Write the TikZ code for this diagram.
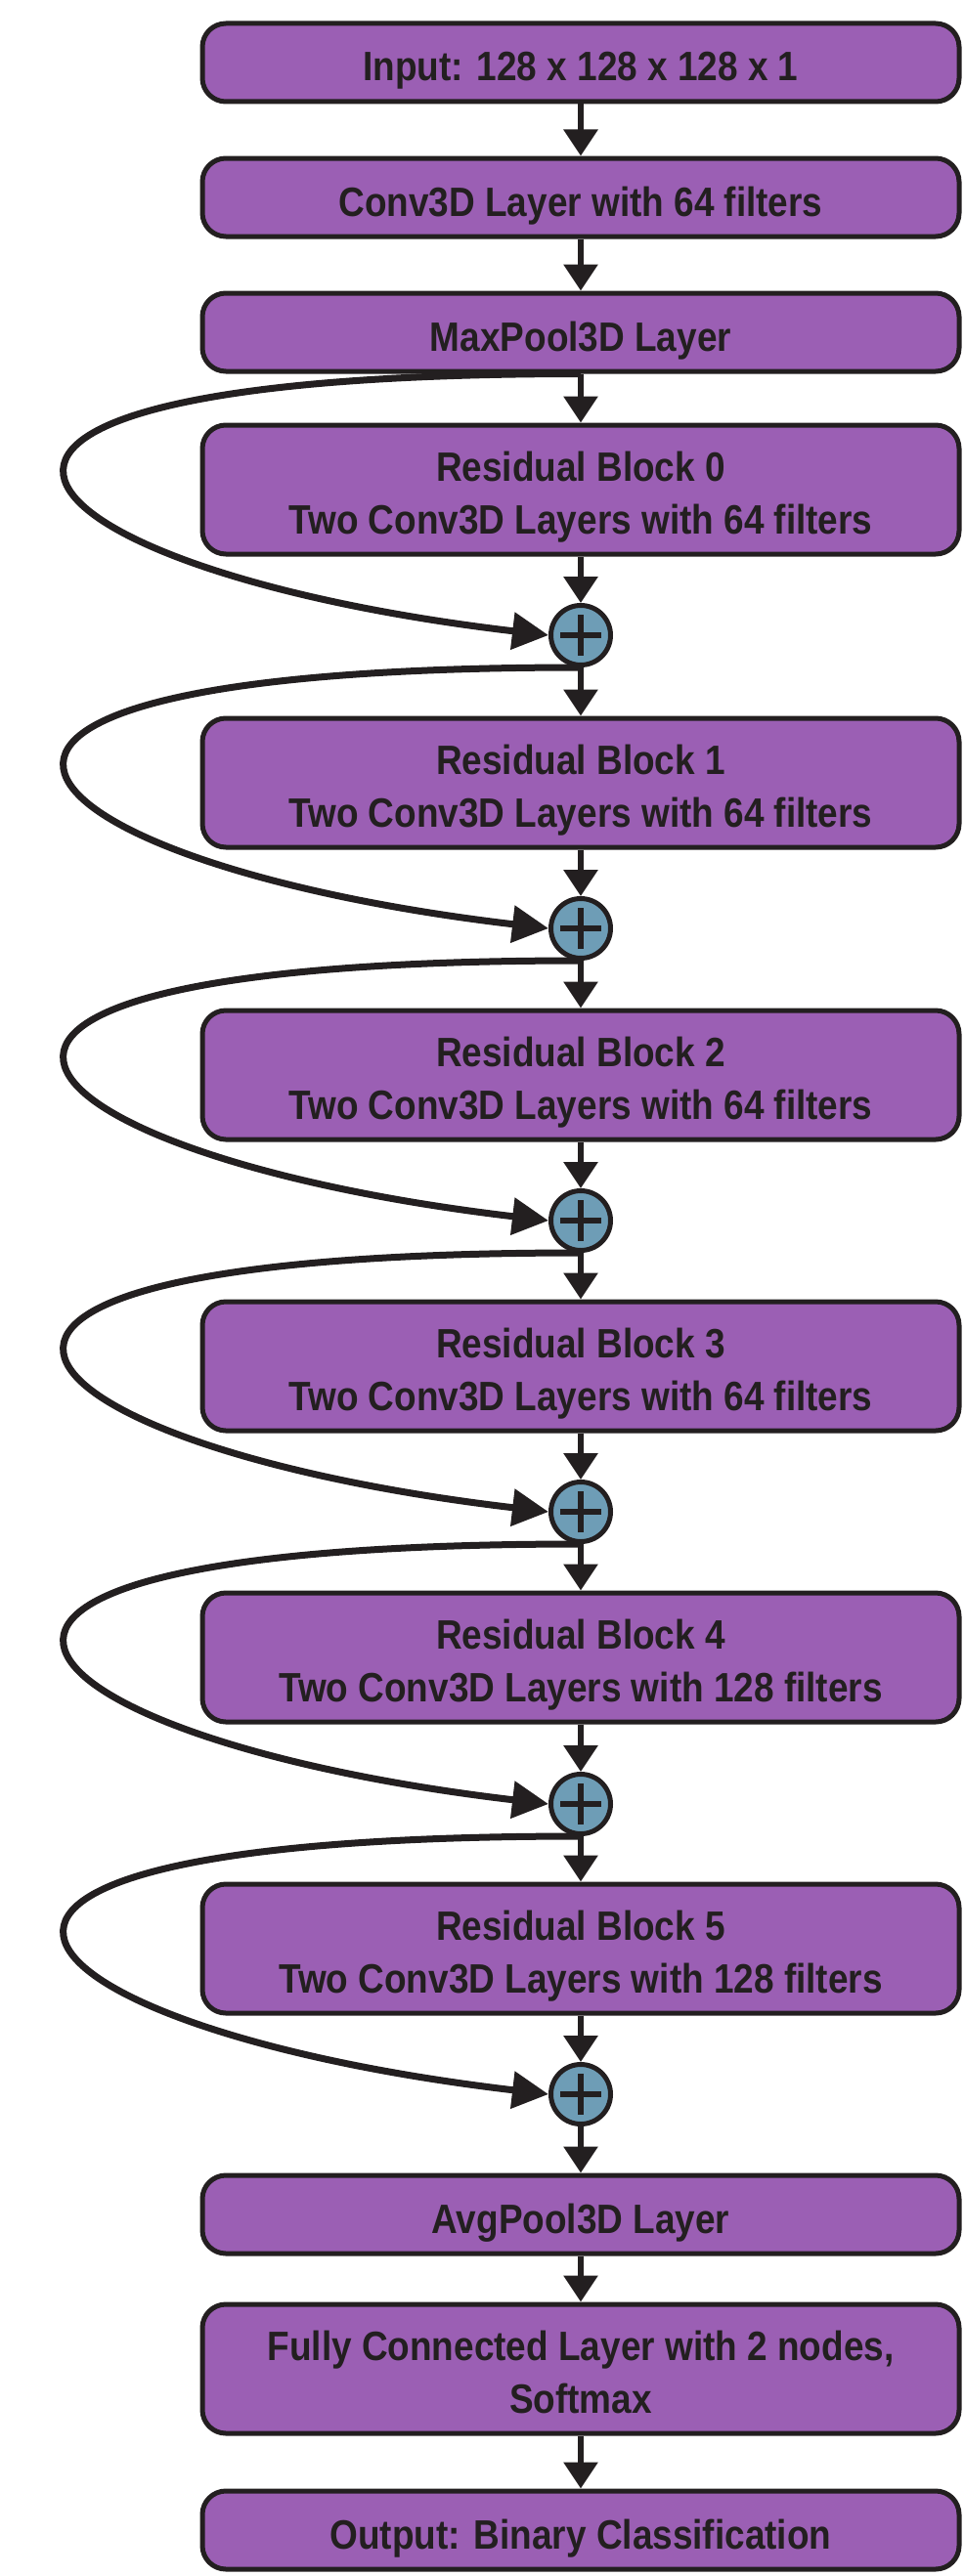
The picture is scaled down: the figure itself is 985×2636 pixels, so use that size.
\documentclass[tikz,border=0pt]{standalone}
\usepackage{fontspec}
\setmainfont{Liberation Sans}[FakeStretch=0.88]
\usetikzlibrary{arrows.meta}
\definecolor{boxpurple}{RGB}{155,95,180}
\definecolor{addblue}{RGB}{110,157,182}
\definecolor{inkdark}{RGB}{35,31,32}

\begin{document}
\begin{tikzpicture}[x=1pt,y=1pt,
  layer/.style={draw=inkdark,line width=5pt,rounded corners=24pt,fill=boxpurple,text=inkdark,minimum width=774pt,minimum height=80pt,align=center,inner sep=0pt,text height=38pt,text depth=0pt,font=\fontsize{42}{54}\selectfont\bfseries},
  block/.style={layer,minimum height=132pt,text height=90pt},
  addop/.style={circle,draw=inkdark,line width=5pt,fill=addblue,minimum size=61pt,inner sep=0pt,path picture={\draw[inkdark,line width=6pt] ([xshift=-21pt]path picture bounding box.center) -- ([xshift=21pt]path picture bounding box.center) ([yshift=-21pt]path picture bounding box.center) -- ([yshift=21pt]path picture bounding box.center);}},
  flow/.style={draw=inkdark,line width=6pt,-{Triangle[length=27pt,width=34pt]}},
  skip/.style={draw=inkdark,line width=7pt,-{Triangle[length=37pt,width=37pt]}}]
\useasboundingbox (0,0) rectangle (985,-2636);
\node[layer] (in_l) at (594,-64) {Input: 128 x 128 x 128 x 1};
\node[layer] (conv_l) at (594,-202) {Conv3D Layer with 64 filters};
\node[layer] (maxp) at (594,-340) {MaxPool3D Layer};
\node[block] (res0) at (594,-501) {Residual Block 0\\Two Conv3D Layers with 64 filters};
\node[addop] (add0) at (594,-650) {};
\node[block] (res1) at (594,-801) {Residual Block 1\\Two Conv3D Layers with 64 filters};
\node[addop] (add1) at (594,-950) {};
\node[block] (res2) at (594,-1100) {Residual Block 2\\Two Conv3D Layers with 64 filters};
\node[addop] (add2) at (594,-1249) {};
\node[block] (res3) at (594,-1398) {Residual Block 3\\Two Conv3D Layers with 64 filters};
\node[addop] (add3) at (594,-1547) {};
\node[block] (res4) at (594,-1696) {Residual Block 4\\Two Conv3D Layers with 128 filters};
\node[addop] (add4) at (594,-1846) {};
\node[block] (res5) at (594,-1994) {Residual Block 5\\Two Conv3D Layers with 128 filters};
\node[addop] (add5) at (594,-2143) {};
\node[layer] (avgp) at (594,-2266) {AvgPool3D Layer};
\node[block] (fc_l) at (594,-2424) {Fully Connected Layer with 2 nodes,\\Softmax};
\node[layer] (out_l) at (594,-2589) {Output: Binary Classification};
% main path
\draw[flow] (in_l.south) -- (conv_l.north);
\draw[flow] (conv_l.south) -- (maxp.north);
\draw[flow] (maxp.south) -- (res0.north);
\draw[flow] (res0.south) -- (add0.north);
\draw[flow] (add0.south) -- (res1.north);
\draw[flow] (res1.south) -- (add1.north);
\draw[flow] (add1.south) -- (res2.north);
\draw[flow] (res2.south) -- (add2.north);
\draw[flow] (add2.south) -- (res3.north);
\draw[flow] (res3.south) -- (add3.north);
\draw[flow] (add3.south) -- (res4.north);
\draw[flow] (res4.south) -- (add4.north);
\draw[flow] (add4.south) -- (res5.north);
\draw[flow] (res5.south) -- (add5.north);
\draw[flow] (add5.south) -- (avgp.north);
\draw[flow] (avgp.south) -- (fc_l.north);
\draw[flow] (fc_l.south) -- (out_l.north);
% shortcuts
\draw[skip] (maxp.south) .. controls +(-800,0) and +(-552,65) .. (add0.west);
\draw[skip] (add0.south) .. controls +(-800,0) and +(-552,65) .. (add1.west);
\draw[skip] (add1.south) .. controls +(-800,0) and +(-552,65) .. (add2.west);
\draw[skip] (add2.south) .. controls +(-800,0) and +(-552,65) .. (add3.west);
\draw[skip] (add3.south) .. controls +(-800,0) and +(-552,65) .. (add4.west);
\draw[skip] (add4.south) .. controls +(-800,0) and +(-552,65) .. (add5.west);
\end{tikzpicture}
\end{document}
